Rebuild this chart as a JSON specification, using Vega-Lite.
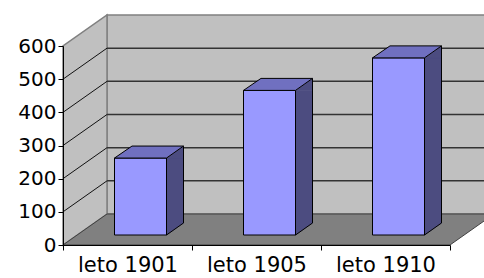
{
  "$schema": "https://vega.github.io/schema/vega-lite/v6.json",
  "width": 387,
  "height": 199,
  "autosize": {"type": "none"},
  "padding": {"left": 63, "top": 46, "right": 34, "bottom": 33},
  "background": "white",
  "config": {"view": {"stroke": null}},
  "resolve": {"axis": {"x": "independent", "y": "independent"}},
  "datasets": {
    "bars": [
      {"cat": "leto 1901", "val": 232},
      {"cat": "leto 1905", "val": 436},
      {"cat": "leto 1910", "val": 534}
    ],
    "ticks": [{"v": 100}, {"v": 200}, {"v": 300}, {"v": 400}, {"v": 500}],
    "frame": [{"id": 1}]
  },
  "layer": [
    {
      "data": {"name": "frame"},
      "mark": {"type": "rect", "fill": "#c0c0c0", "stroke": "#808080", "strokeWidth": 1.5, "xOffset": 44, "x2Offset": 44, "yOffset": -31, "y2Offset": -31},
      "encoding": {
        "x": {"value": 0},
        "x2": {"value": "width"},
        "y": {"datum": 0, "type": "quantitative", "axis": null, "scale": {"domain": [0, 600], "nice": false}},
        "y2": {"datum": 600}
      }
    },
    {
      "data": {"name": "frame"},
      "mark": {"type": "point", "filled": true, "opacity": 1, "fill": "#c0c0c0", "stroke": "#808080", "strokeWidth": 1.5, "size": 52900, "shape": "M -0.1913 1 L -0.1913 -0.7304 L 0.1913 -1 L 0.1913 0.7304 Z", "xOffset": 22, "yOffset": -15.5},
      "encoding": {
        "x": {"value": 0},
        "y": {"datum": 300, "type": "quantitative", "axis": null}
      }
    },
    {
      "data": {"name": "frame"},
      "mark": {"type": "point", "filled": true, "opacity": 1, "fill": "#808080", "stroke": "#404040", "strokeWidth": 1, "size": 185761, "shape": "M -1 0.0719 L 0.7958 0.0719 L 1 -0.0719 L -0.7958 -0.0719 Z", "xOffset": 215.5, "yOffset": -15.5},
      "encoding": {
        "x": {"value": 0},
        "y": {"datum": 0, "type": "quantitative", "axis": null}
      }
    },
    {
      "data": {"name": "ticks"},
      "mark": {"type": "rule", "stroke": "#333333", "strokeWidth": 1.5, "xOffset": 44, "x2Offset": 44, "yOffset": -31},
      "encoding": {
        "x": {"value": 0},
        "x2": {"value": "width"},
        "y": {"field": "v", "type": "quantitative", "axis": null}
      }
    },
    {
      "data": {"name": "ticks"},
      "mark": {"type": "rule", "stroke": "#111111", "strokeWidth": 1, "x2Offset": 44, "y2Offset": -31},
      "encoding": {
        "x": {"value": 0},
        "x2": {"value": 0},
        "y": {"field": "v", "type": "quantitative", "axis": null},
        "y2": {"field": "v"}
      }
    },
    {
      "data": {"name": "bars"},
      "mark": {"type": "bar", "width": 17, "fill": "#4c4c80", "stroke": "#4c4c80", "strokeWidth": 0.5, "xOffset": 47.5, "yOffset": -10, "y2Offset": -22},
      "encoding": {
        "x": {"field": "cat", "type": "nominal", "sort": null, "axis": null, "scale": {"type": "band", "paddingInner": 0, "paddingOuter": 0}},
        "y": {"field": "val", "type": "quantitative", "axis": null},
        "y2": {"datum": 0}
      }
    },
    {
      "data": {"name": "bars"},
      "mark": {"type": "point", "filled": true, "opacity": 1, "fill": "#4c4c80", "stroke": "#4c4c80", "strokeWidth": 0.5, "size": 289, "shape": "M -1 0.7059 L 1 -0.7059 L 1 0.7059 Z", "xOffset": 47.5, "yOffset": -16},
      "encoding": {
        "x": {"field": "cat", "type": "nominal", "sort": null, "axis": null},
        "y": {"field": "val", "type": "quantitative", "axis": null}
      }
    },
    {
      "data": {"name": "bars"},
      "mark": {"type": "point", "filled": true, "opacity": 1, "fill": "#4c4c80", "stroke": "#4c4c80", "strokeWidth": 0.5, "size": 289, "shape": "M -1 0.7059 L -1 -0.7059 L 1 -0.7059 Z", "xOffset": 47.5, "yOffset": -16},
      "encoding": {
        "x": {"field": "cat", "type": "nominal", "sort": null, "axis": null},
        "y": {"datum": 0, "type": "quantitative", "axis": null}
      }
    },
    {
      "data": {"name": "bars"},
      "mark": {"type": "point", "filled": false, "opacity": 1, "stroke": "#000000", "strokeWidth": 1, "size": 289, "shape": "M -1 0.7059 L 1 -0.7059", "xOffset": 47.5, "yOffset": -16},
      "encoding": {
        "x": {"field": "cat", "type": "nominal", "sort": null, "axis": null},
        "y": {"datum": 0, "type": "quantitative", "axis": null}
      }
    },
    {
      "data": {"name": "bars"},
      "mark": {"type": "rule", "stroke": "#000000", "strokeWidth": 1, "xOffset": 56, "yOffset": -22, "y2Offset": -22},
      "encoding": {
        "x": {"field": "cat", "type": "nominal", "sort": null, "axis": null},
        "y": {"field": "val", "type": "quantitative", "axis": null},
        "y2": {"datum": 0}
      }
    },
    {
      "data": {"name": "bars"},
      "mark": {"type": "bar", "width": 52, "fill": "#9999ff", "stroke": "#000000", "strokeWidth": 1, "xOffset": 13, "yOffset": -10, "y2Offset": -10},
      "encoding": {
        "x": {
          "field": "cat",
          "type": "nominal",
          "sort": null,
          "title": null,
          "axis": {
            "zindex": 2,
            "domainColor": "#000000",
            "domainWidth": 1,
            "tickColor": "#000000",
            "tickSize": 5,
            "tickBand": "extent",
            "labelAngle": 0,
            "labelAlign": "center",
            "labelFont": "DejaVu Sans",
            "labelFontSize": 21,
            "labelColor": "#000000",
            "labelPadding": 4
          }
        },
        "y": {
          "field": "val",
          "type": "quantitative",
          "title": null,
          "axis": {
            "zindex": 2,
            "values": [0, 100, 200, 300, 400, 500, 600],
            "labelOverlap": false,
            "grid": false,
            "domainColor": "#000000",
            "domainWidth": 1,
            "tickColor": "#000000",
            "tickSize": 5,
            "labelFont": "DejaVu Sans",
            "labelFontSize": 20,
            "labelColor": "#000000",
            "labelPadding": 2
          }
        },
        "y2": {"datum": 0}
      }
    },
    {
      "data": {"name": "bars"},
      "mark": {"type": "point", "filled": true, "opacity": 1, "fill": "#7070c0", "stroke": "#000000", "strokeWidth": 1, "size": 4761, "shape": "M -1 0.1739 L 0.5072 0.1739 L 1 -0.1739 L -0.4928 -0.1739 Z", "xOffset": 21.5, "yOffset": -16},
      "encoding": {
        "x": {"field": "cat", "type": "nominal", "sort": null, "axis": null},
        "y": {"field": "val", "type": "quantitative", "axis": null}
      }
    }
  ]
}
